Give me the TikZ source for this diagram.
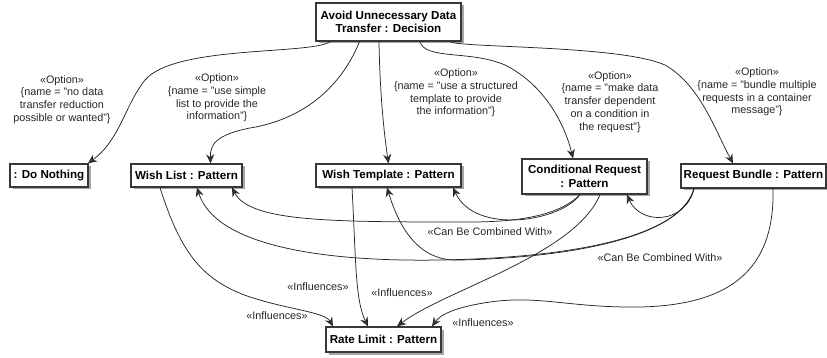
\documentclass[tikz,border=0pt]{standalone}
\usepackage{fontspec}
\setmainfont{Liberation Sans}
\usetikzlibrary{arrows.meta,shadows}
\definecolor{edge}{HTML}{383838}
\tikzset{
  box/.style={draw=edge,line width=1.3pt,fill=white,align=center,inner sep=1pt,
    font=\fontsize{11.6}{13.5}\selectfont\bfseries,
    drop shadow={shadow xshift=2.5pt,shadow yshift=-2.5pt,fill=black,opacity=0.35}},
  conn/.style={draw=black!85,line width=0.75pt,-{Stealth[length=9pt,width=8pt,inset=3pt,fill=edge]}},
  lbl/.style={align=center,inner sep=0pt,font=\fontsize{10.8}{12.8}\selectfont,text=black!85},
}
\begin{document}
\begin{tikzpicture}[x=1pt,y=-1pt]
\useasboundingbox (0,0) rectangle (827,358);
% nodes
\node[box,minimum width=145pt,minimum height=38pt] (dec) at (388.5,22) {Avoid Unnecessary Data\\Transfer : Decision};
\node[box,minimum width=78pt,minimum height=23pt] (nothing) at (49,175.5) {: Do Nothing};
\node[box,minimum width=111pt,minimum height=23pt] (wl) at (186.5,175.5) {Wish List : Pattern};
\node[box,minimum width=145pt,minimum height=23pt] (wt) at (388.5,175.5) {Wish Template : Pattern};
\node[box,minimum width=125pt,minimum height=35pt] (cr) at (584.5,176.5) {Conditional Request\\: Pattern};
\node[box,minimum width=145pt,minimum height=24pt] (rb) at (753.5,176) {Request Bundle : Pattern};
\node[box,minimum width=115pt,minimum height=25pt] (rl) at (383.5,339.5) {Rate Limit : Pattern};
% option labels
\node[lbl] (o1) at (62,99.5) {«Option»\\\{name = "no data\\transfer reduction\\possible or wanted"\}};
\node[lbl] (o2) at (217,98) {«Option»\\\{name = "use simple\\list to provide the\\information"\}};
\node[lbl] (o3) at (456,93) {«Option»\\\{name = "use a structured\\template to provide\\the information"\}};
\node[lbl] (o4) at (610,102) {«Option»\\\{name = "make data\\transfer dependent\\on a condition in\\the request"\}};
\node[lbl] (o5) at (757,92) {«Option»\\\{name = "bundle multiple\\requests in a container\\message"\}};
% option edges
\draw[conn] ([xshift=-58pt]dec.south) .. controls (310,55) and (175,45) .. (145,80)
  .. controls (125,105) and (120,140) .. ([xshift=39pt]nothing.north);
\draw[conn] ([xshift=-29pt]dec.south) .. controls (340,90) and (300,120) .. (250,128)
  .. controls (215,135) and (210,145) .. ([xshift=24pt]wl.north);
\draw[conn] ([xshift=-9.5pt]dec.south) .. controls (380,100) and (385,140) .. (wt.north);
\draw[conn] ([xshift=31.5pt]dec.south) .. controls (425,60) and (470,50) .. (505,65)
  .. controls (545,85) and (565,125) .. ([xshift=-11.5pt]cr.north);
\draw[conn] ([xshift=61.5pt]dec.south) .. controls (460,48) and (620,45) .. (665,65)
  .. controls (700,85) and (715,130) .. ([xshift=-20.5pt]rb.north);
% can be combined with
\draw[conn] ([xshift=-4.5pt]cr.south) .. controls (560,215) and (520,222) .. (470,222)
  .. controls (330,222) and (250,222) .. ([xshift=45.5pt]wl.south);
\draw[conn] ([xshift=-4.5pt]cr.south) .. controls (560,222) and (475,235) .. ([xshift=64.5pt]wt.south);
\draw[conn] ([xshift=-59.5pt]rb.south) .. controls (685,225) and (640,225) .. ([xshift=42.5pt]cr.south);
\draw[conn] ([xshift=-59.5pt]rb.south) .. controls (680,240) and (560,258) .. (440,260)
  .. controls (320,262) and (215,245) .. ([xshift=10.5pt]wl.south);
\draw[conn] ([xshift=-59.5pt]rb.south) .. controls (680,240) and (560,258) .. (460,260)
  .. controls (420,262) and (400,230) .. ([xshift=-1.5pt]wt.south);
\node[lbl] (c1) at (490,232) {«Can Be Combined With»};
\node[lbl] (c2) at (660,258) {«Can Be Combined With»};
% influences
\draw[conn] ([xshift=-26.5pt]wl.south) .. controls (180,250) and (200,280) .. (250,297)
  .. controls (290,310) and (325,312) .. ([xshift=-50.5pt]rl.north);
\draw[conn] ([xshift=-36.5pt]wt.south) .. controls (356,260) and (355,300) .. ([xshift=-15.5pt]rl.north);
\draw[conn] ([xshift=15.5pt]cr.south) .. controls (575,255) and (445,290) .. ([xshift=13.5pt]rl.north);
\draw[conn] ([xshift=19.5pt]rb.south) .. controls (775,270) and (730,305) .. (640,307)
  .. controls (570,308) and (540,295) .. (490,302)
  .. controls (455,307) and (440,315) .. ([xshift=48.5pt]rl.north);
\node[lbl] (i1) at (277,316) {«Influences»};
\node[lbl] (i2) at (318,287) {«Influences»};
\node[lbl] (i3) at (402,293) {«Influences»};
\node[lbl] (i4) at (483,323) {«Influences»};
\end{tikzpicture}
\end{document}
